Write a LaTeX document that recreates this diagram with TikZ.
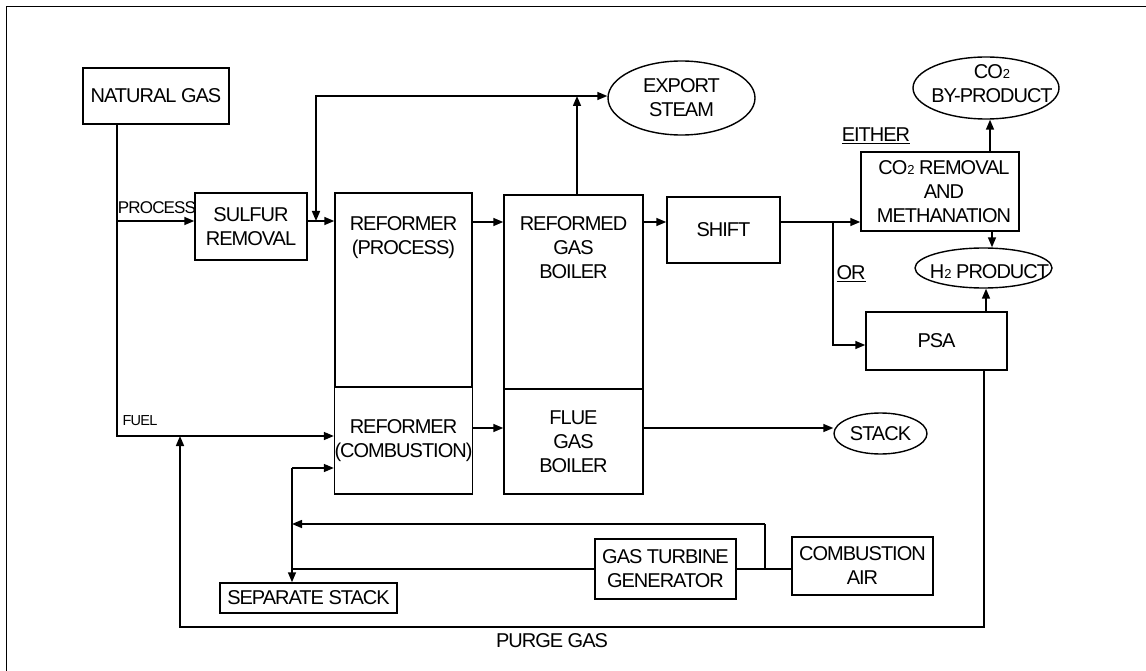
\documentclass[tikz,border=0pt]{standalone}
\usepackage{fontspec}
\setmainfont{Liberation Sans}[LetterSpace=-5]
\usetikzlibrary{arrows.meta,shapes.geometric}
\newcommand{\lowtwo}{{\fontsize{13}{13}\selectfont 2}}
\begin{document}
\begin{tikzpicture}[x=1pt,y=-1pt,
  every node/.style={font=\fontsize{20}{24}\selectfont, align=center, inner sep=0pt},
  box/.style={draw, line width=1.5pt, rectangle},
  oval/.style={draw, line width=1.4pt, ellipse},
  ln/.style={line width=1.5pt},
  arr/.style={ln, -{Triangle[length=10pt,width=8pt]}},
  small/.style={font=\fontsize{17}{20}\selectfont},
  tiny/.style={font=\fontsize{14.5}{17}\selectfont},
]
\useasboundingbox (0,0) rectangle (1146,671);
\draw[ln] (6.5,671) -- (6.5,6.5) -- (1146,6.5);

% nodes
\node[box, minimum width=146pt, minimum height=56pt] (ng) at (156,96) {NATURAL GAS};
\node[box, minimum width=112pt, minimum height=67pt] (sulfur) at (251,226.5) {SULFUR\\REMOVAL};
\node[box, minimum width=137pt, minimum height=194pt,
      label={[anchor=north, yshift=-24pt]north:REFORMER\\(PROCESS)}] (refP) at (403.5,290) {};
\node[box, minimum width=137pt, minimum height=107pt] (refC) at (403.5,440.5) {REFORMER\\(COMBUSTION)};
\node[box, minimum width=139pt, minimum height=194pt,
      label={[anchor=north, yshift=-22pt]north:REFORMED\\GAS\\BOILER}] (rgb) at (573.5,292) {};
\node[box, minimum width=139pt, minimum height=105pt] (flue) at (573.5,441.5) {FLUE\\GAS\\BOILER};
\node[box, minimum width=113pt, minimum height=66pt] (shift) at (723.5,230) {SHIFT};
\node[oval, minimum width=147pt, minimum height=74pt] (export) at (681.5,98) {EXPORT\\STEAM};
\node[box, minimum width=158pt, minimum height=79pt] (co2rem) at (940,191.5) {\hspace*{8pt}CO\lowtwo{} REMOVAL\\\hspace*{8pt}AND\\\hspace*{8pt}METHANATION};
\node[oval, minimum width=146pt, minimum height=62pt,
      label={[xshift=6pt, yshift=4.5pt]center:CO\lowtwo\\BY-PRODUCT}] (co2bp) at (986,88) {};
\node[oval, minimum width=137pt, minimum height=40pt,
      label={[xshift=6pt, yshift=-4pt]center:H\lowtwo{} PRODUCT}] (h2) at (983.5,268) {};
\node[box, minimum width=141pt, minimum height=58pt] (psa) at (936.5,341) {PSA};
\node[oval, minimum width=93pt, minimum height=41pt] (stack) at (880.5,433.5) {STACK};
\node[box, minimum width=141pt, minimum height=60pt] (gt) at (665.5,569) {GAS TURBINE\\GENERATOR};
\node[box, minimum width=141pt, minimum height=58pt] (air) at (862.5,566) {COMBUSTION\\AIR};
\node[box, minimum width=177pt, minimum height=30pt] (sep) at (308.5,598) {SEPARATE STACK};

% labels
\node[small] (lproc) at (157,208) {PROCESS};
\node[tiny] (lfuel) at (140,421) {FUEL};
\node (lpurge) at (552,641) {PURGE GAS};
\node (leither) at (876,136) {\underline{EITHER}};
\node (lor) at (851,274) {\underline{OR}};

% coordinates
\coordinate (py) at (117,221);
\coordinate (fy) at (117,436);
\coordinate (sj) at (577,96);
\coordinate (sd) at (316,221);
\coordinate (ry) at (0,222);
\coordinate (br) at (833,222);
\coordinate (pb) at (833,345);
\coordinate (cx) at (990,0);
\coordinate (hx) at (992,0);
\coordinate (px) at (986,0);
\coordinate (pg) at (984,627);
\coordinate (pl) at (180,627);
\coordinate (fl) at (0,428);
\coordinate (j1) at (292,468);
\coordinate (j2) at (292,524);
\coordinate (j3) at (765,524);
\coordinate (j4) at (765,569);

% connectors
\draw[arr] (ng.south -| py) -- (fy) -- (fy -| refC.west);
\draw[arr] (py) -- (py -| sulfur.west);
\draw[arr] (sulfur.east |- sd) -- (refP.west |- sd);
\draw[arr] (rgb.north -| sj) -- (sj);
\draw[arr] (sj) -- (sj -| export.west);
\draw[arr] (sj) -| (sd);
\draw[arr] (refP.east |- ry) -- (rgb.west |- ry);
\draw[arr] (rgb.east |- ry) -- (shift.west |- ry);
\draw[arr] (shift.east |- ry) -- (co2rem.west |- ry);
\draw[arr] (br) -- (pb) -- (pb -| psa.west);
\draw[arr] (co2rem.north -| cx) -- (co2bp.south -| cx);
\draw[arr] (co2rem.south -| hx) -- (h2.north -| hx);
\draw[arr] (psa.north -| px) -- (h2.south -| px);
\draw[arr] (psa.south -| pg) -- (pg) -- (pl) -- (pl |- fy);
\draw[arr] (refC.east |- fl) -- (flue.west |- fl);
\draw[arr] (flue.east |- fl) -- (stack.west |- fl);
\draw[arr] (j1) -- (j1 -| refC.west);
\draw[arr] (j1) -- (sep.north -| j1);
\draw[arr] (j3) -- (j2);
\draw[ln] (j3) -- (j4);
\draw[ln] (gt.west) -- (gt.west -| j1);
\draw[ln] (gt.east) -- (gt.east -| air.west);
\end{tikzpicture}
\end{document}
